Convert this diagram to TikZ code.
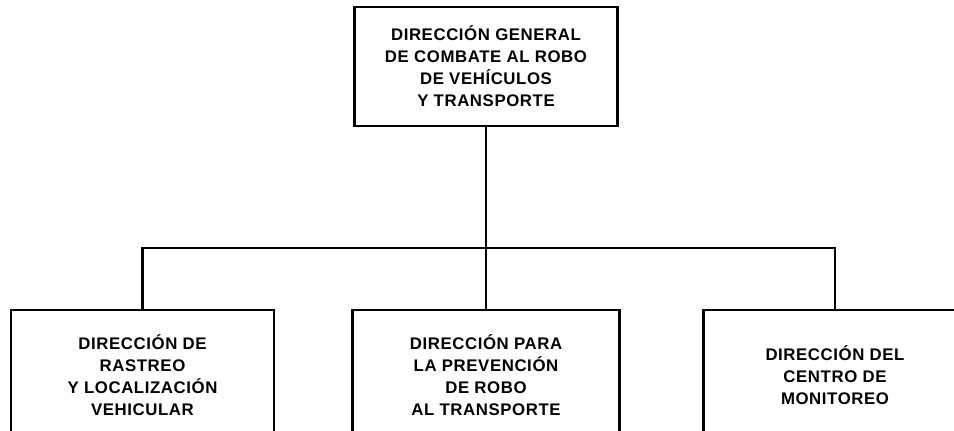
\documentclass[tikz,border=0pt]{standalone}
\usepackage{fontspec}
\setmainfont{Liberation Sans}[LetterSpace=3.5]

\begin{document}
\begin{tikzpicture}[x=1pt,y=-1pt]
\tikzstyle{every node}=[font=\bfseries\fontsize{16.8}{22}\selectfont]
\tikzstyle{unidad}=[draw, line width=2.6pt, align=center, inner sep=0pt,
  minimum width=263pt]
\useasboundingbox (0,0) rectangle (954,431);
\clip (0,0) rectangle (954,431);

\node[unidad, minimum height=119pt] (dirgen) at (486,66.5)
  {DIRECCIÓN GENERAL\\DE COMBATE AL ROBO\\DE VEHÍCULOS\\Y TRANSPORTE};

\node[unidad, minimum height=130pt] (rastreo) at (142.5,375)
  {DIRECCIÓN DE\\RASTREO\\Y LOCALIZACIÓN\\VEHICULAR};
\node[unidad, minimum height=130pt, minimum width=267pt] (prevencion) at (486,375)
  {DIRECCIÓN PARA\\LA PREVENCIÓN\\DE ROBO\\AL TRANSPORTE};
\node[unidad, minimum height=130pt] (monitoreo) at (835,375)
  {DIRECCIÓN DEL\\CENTRO DE\\MONITOREO};

\coordinate (bus) at (486,248);
\draw[line width=2.6pt] (dirgen.south) -- (prevencion.north);
\draw[line width=2.6pt] (rastreo.north) |- (bus) -| (monitoreo.north);
\end{tikzpicture}
\end{document}
